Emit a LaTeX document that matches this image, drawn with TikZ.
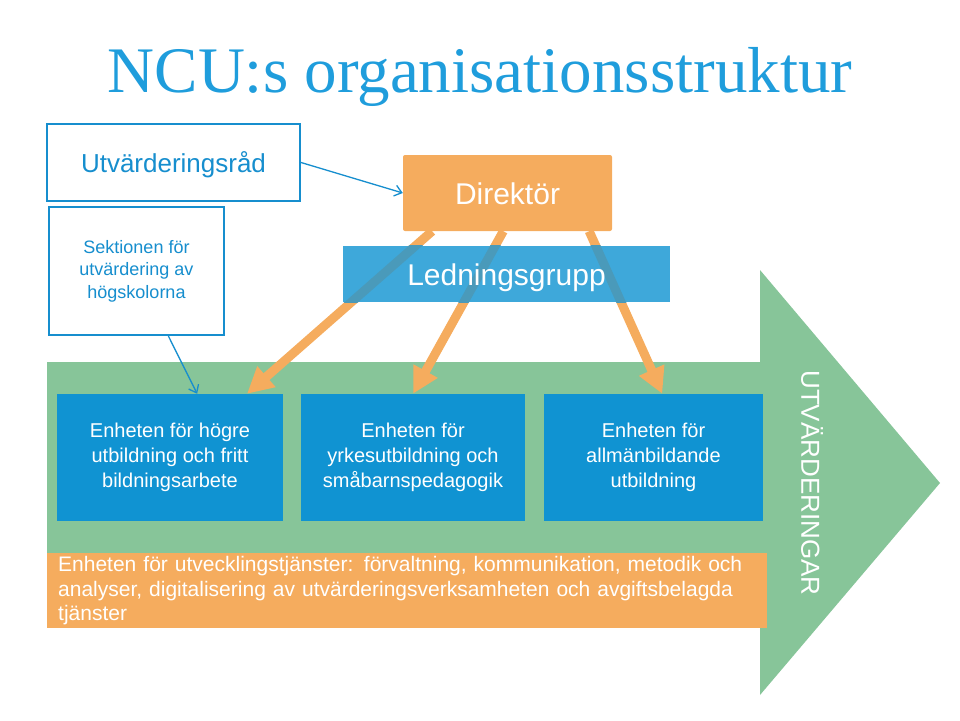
\documentclass[tikz,border=0pt]{standalone}
\usepackage{fontspec}
\setmainfont{Liberation Sans}
\newfontfamily\titlefont{Liberation Serif}
\usetikzlibrary{arrows.meta, positioning, calc}

\begin{document}
\begin{tikzpicture}[x=1pt, y=-1pt,
  unitbox/.style={rectangle, fill=ncublue, text=white, inner sep=0pt, align=center,
                  minimum height=127pt, font=\fontsize{20}{25}\selectfont},
  outlinebox/.style={rectangle, draw=lineblue, line width=2pt, fill=white, text=lineblue,
                     inner sep=0pt, align=center},
  orangearrow/.style={draw=ncuorange, line width=9pt, -{Triangle[length=26pt, width=26pt]}},
  bluearrow/.style={draw=lineblue, line width=1.3pt, -{Straight Barb[length=7pt, width=11pt]}}]
  % Define colors
  \definecolor{ncublue}{RGB}{16,147,210}
  \definecolor{ledblue}{RGB}{62,168,218}
  \definecolor{overlapblue}{RGB}{74,154,186}
  \definecolor{ncuorange}{RGB}{245,172,94}
  \definecolor{ncugreen}{RGB}{135,197,153}
  \definecolor{titleblue}{RGB}{31,157,220}
  \definecolor{lineblue}{RGB}{22,142,206}

  \useasboundingbox (0,0) rectangle (960,720);

  % Big green arrow behind the units
  \fill[ncugreen] (47,362) -- (760,362) -- (760,270) -- (940,483)
    -- (760,695) -- (760,590) -- (47,590) -- cycle;
  \node[rotate=-90, text=white, font=\fontsize{26}{30}\selectfont] (utvlabel) at (812,483) {UTVÄRDERINGAR};

  % Title
  \node[anchor=base, text=titleblue, font=\titlefont\fontsize{65}{78}\selectfont] (title) at (480,92) {NCU:s organisationsstruktur};

  % Units (blue boxes)
  \node[unitbox, minimum width=226pt] (hogre) at (170,457.5) {Enheten för högre\\utbildning och fritt\\bildningsarbete};
  \node[unitbox, minimum width=224pt] (yrke) at (413,457.5) {Enheten för\\yrkesutbildning och\\småbarnspedagogik};
  \node[unitbox, minimum width=219pt] (allm) at (653.5,457.5) {Enheten för\\allmänbildande\\utbildning};

  % Development services (orange strip)
  \node[rectangle, fill=ncuorange, text=white, anchor=north west, align=left,
        text width=698pt, inner xsep=11pt, inner ysep=0pt, minimum height=75pt,
        font=\fontsize{21}{24.5}\selectfont] (utvtj) at (47,553)
        {Enheten för utvecklingstjänster: förvaltning, kommunikation, metodik och\\
         analyser, digitalisering av utvärderingsverksamheten och avgiftsbelagda\\
         tjänster};

  % Director
  \node[rectangle, fill=ncuorange, rounded corners=2pt, text=white, minimum width=209pt,
        minimum height=76pt, text height=22pt, text depth=0pt,
        font=\fontsize{30}{36}\selectfont] (dir) at (507.5,193) {Direktör};

  % Arrows from director to the units
  \coordinate (d1) at ($(dir.south west)!0.14!(dir.south east)$);
  \coordinate (d2) at ($(dir.south west)!0.48!(dir.south east)$);
  \coordinate (d3) at ($(dir.south west)!0.89!(dir.south east)$);
  \draw[orangearrow] (d1) -- ($(hogre.north west)!0.84!(hogre.north east)$);
  \draw[orangearrow] (d2) -- (yrke.north);
  \draw[orangearrow] (d3) -- ($(allm.north west)!0.54!(allm.north east)$);

  % Management group (arrows show through it)
  \node[rectangle, fill=ledblue, minimum width=327pt, minimum height=56pt] (led) at (506.5,274) {};
  \begin{scope}
    \clip (led.south west) rectangle (led.north east);
    \draw[overlapblue, line width=9pt] (d1) -- ($(hogre.north west)!0.84!(hogre.north east)$);
    \draw[overlapblue, line width=9pt] (d2) -- (yrke.north);
    \draw[overlapblue, line width=9pt] (d3) -- ($(allm.north west)!0.54!(allm.north east)$);
  \end{scope}
  \node[text=white, text height=22pt, text depth=0pt,
        font=\fontsize{30}{36}\selectfont] (ledtext) at (led.center) {Ledningsgrupp};

  % Evaluation council and section
  \node[outlinebox, minimum width=253pt, minimum height=77pt, text height=19pt, text depth=0pt,
        font=\fontsize{26}{30}\selectfont] (rad) at (173.5,162.5) {Utvärderingsråd};
  \node[outlinebox, minimum width=175pt, minimum height=128pt,
        font=\fontsize{18}{22.5}\selectfont] (sek) at (136.5,271) {Sektionen för\\utvärdering av\\högskolorna};

  \draw[bluearrow] (rad.east) -- (dir.west);
  \draw[bluearrow] ($(sek.south west)!0.68!(sek.south east)$) -- ($(hogre.north west)!0.62!(hogre.north east)$);

\end{tikzpicture}
\end{document}
